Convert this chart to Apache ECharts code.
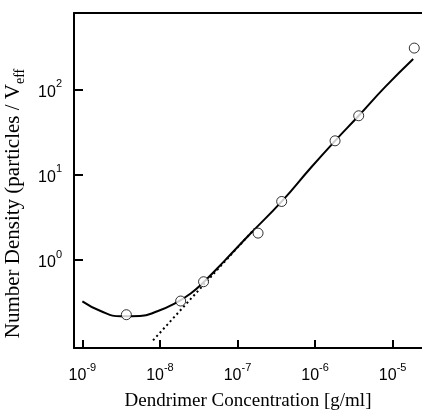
<!DOCTYPE html>
<html>
<head>
<meta charset="utf-8">
<script src="https://cdn.jsdelivr.net/npm/echarts@6/dist/echarts.min.js"></script>
<style>
  html, body { margin: 0; padding: 0; background: #fff; }
  #chart { width: 422px; height: 411px; }
</style>
</head>
<body>
<div id="chart"></div>
<script>
// measured points (open circles)
const pointX = [3.69e-9, 1.85e-8, 3.65e-8, 1.84e-7, 3.71e-7, 1.81e-6, 3.65e-6, 1.90e-5]
const pointY = [0.228, 0.330, 0.556, 2.07, 4.87, 25.1, 49.4, 308]

// solid model curve
const curveX = [1e-9, 1.69e-9, 3.15e-9, 5.55e-9, 9.25e-9, 1.52e-8, 2.49e-8, 3.70e-8, 6.70e-8, 1.45e-7, 3.72e-7, 8.59e-7, 1.81e-6, 3.65e-6, 7.96e-6, 1.84e-5]
const curveY = [0.327, 0.254, 0.218, 0.220, 0.250, 0.305, 0.405, 0.556, 0.964, 2.02, 4.88, 11.8, 25.1, 49.4, 107, 229]

// dotted linear asymptote
const dotX = [8.15e-9, 1.67e-7]
const dotY = [0.114, 2.34]

const xTicks = [1e-9, 1e-8, 1e-7, 1e-6, 1e-5]
const yTicks = [1, 10, 100]

const chart = echarts.init(document.getElementById('chart'))

const pairs = (xs, ys) => xs.map((x, i) => [x, ys[i]])

// 10 with the exponent as a superscript
const powLabel = v => '{n|10}{s|' + Math.round(Math.log10(v)) + '}'
const powRich = {
    n: { fontFamily: 'Liberation Sans', fontSize: 16, color: '#000', lineHeight: 16, verticalAlign: 'bottom' },
    s: { fontFamily: 'Liberation Sans', fontSize: 11, color: '#000', lineHeight: 22, verticalAlign: 'top' }
}

const xMin = 7.8e-10, xMax = 2.39e-5
const yMin = 0.0927, yMax = 795

const option = {
    animation: false,
    backgroundColor: '#fff',
    grid: { left: 74, right: 0, top: 13, bottom: 63, outerBoundsMode: 'none', containLabel: false },
    xAxis: [
        {
            type: 'log',
            min: xMin,
            max: xMax,
            position: 'bottom',
            name: 'Dendrimer Concentration [g/ml]',
            nameLocation: 'middle',
            nameGap: 44,
            nameTextStyle: { fontFamily: 'Liberation Serif', fontSize: 19, color: '#000' },
            axisLine: { lineStyle: { color: '#000', width: 2 } },
            axisTick: { inside: true, length: 8, lineStyle: { color: '#000', width: 2 }, customValues: xTicks },
            axisLabel: { margin: 14, formatter: powLabel, rich: powRich, customValues: xTicks },
            splitLine: { show: false },
            minorTick: { show: false }
        },
        {
            // top frame line only
            type: 'log',
            min: xMin,
            max: xMax,
            position: 'top',
            axisLine: { lineStyle: { color: '#000', width: 2 } },
            axisTick: { show: false },
            axisLabel: { show: false },
            splitLine: { show: false }
        }
    ],
    yAxis: {
        type: 'log',
        min: yMin,
        max: yMax,
        name: 'Number Density (particles / V{sub|eff}',
        nameLocation: 'middle',
        nameRotate: 90,
        nameGap: 47,
        nameTextStyle: {
            fontFamily: 'Liberation Serif', fontSize: 21, color: '#000',
            padding: [0, 46, 0, 0],
            rich: {
                sub: { fontFamily: 'Liberation Serif', fontSize: 14, color: '#000', verticalAlign: 'bottom', lineHeight: 27 }
            }
        },
        axisLine: { lineStyle: { color: '#000', width: 2 } },
        axisTick: { inside: true, length: 9, lineStyle: { color: '#000', width: 2 }, customValues: yTicks },
        axisLabel: { margin: 12, formatter: powLabel, rich: powRich, customValues: yTicks },
        splitLine: { show: false },
        minorTick: { show: false }
    },
    series: [
        {
            name: 'asymptote',
            type: 'line',
            data: pairs(dotX, dotY),
            showSymbol: false,
            lineStyle: { color: '#000', width: 2, type: [2, 3] }
        },
        {
            name: 'model',
            type: 'line',
            data: pairs(curveX, curveY),
            smooth: 0.5,
            showSymbol: false,
            lineStyle: { color: '#000', width: 2 }
        },
        {
            name: 'measured',
            type: 'scatter',
            data: pairs(pointX, pointY),
            symbol: 'circle',
            symbolSize: 10,
            itemStyle: { color: '#fff', borderColor: '#000', borderWidth: 1 },
            z: 5
        }
    ]
}

chart.setOption(option)
</script>
</body>
</html>
